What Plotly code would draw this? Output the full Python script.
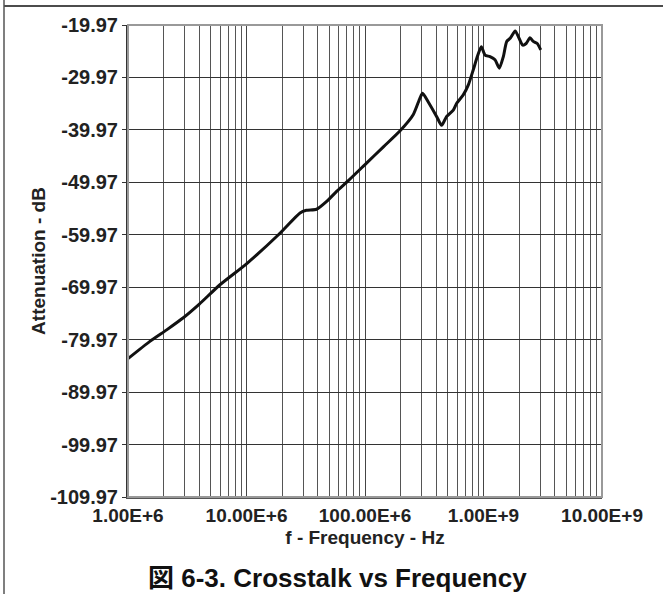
import plotly.graph_objects as go

# Frequency (Hz) and attenuation (dB)
freq_hz = [1.0e6, 1.53e6, 2.12e6, 2.93e6, 4.0e6, 5.97e6, 10e6, 18.6e6, 28.3e6, 32e6,
           39e6, 47.5e6, 57.6e6, 73.5e6, 103e6, 143e6, 197e6, 255e6, 291e6, 306e6,
           341e6, 402e6, 443e6, 489e6, 556e6, 594e6, 675e6, 745e6, 820e6, 887e6,
           959e6, 1.03e9, 1.135e9, 1.25e9, 1.36e9, 1.47e9, 1.57e9, 1.68e9, 1.85e9,
           1.97e9, 2.14e9, 2.29e9, 2.47e9, 2.63e9, 2.84e9, 3.04e9]
atten_db = [-83.6, -80.3, -78.1, -75.8, -73.2, -69.5, -65.5, -59.97, -55.8, -55.3,
            -55.1, -53.6, -51.7, -49.5, -46.3, -43.2, -40.2, -37.1, -33.9, -33.0,
            -34.6, -37.4, -39.1, -37.4, -36.2, -34.9, -33.3, -31.4, -28.5, -26.0,
            -24.1, -25.7, -26.0, -26.6, -28.2, -26.0, -23.1, -22.5, -21.1,
            -22.2, -23.8, -23.5, -22.4, -23.1, -23.5, -24.7]

x_tick_vals = [1e6, 1e7, 1e8, 1e9, 1e10]
x_tick_text = ["1.00E+6", "10.00E+6", "100.00E+6", "1.00E+9", "10.00E+9"]
y_tick_vals = [-19.97, -29.97, -39.97, -49.97, -59.97, -69.97, -79.97, -89.97, -99.97, -109.97]
y_tick_text = ["-19.97", "-29.97", "-39.97", "-49.97", "-59.97", "-69.97", "-79.97", "-89.97", "-99.97", "-109.97"]

x_title = "f - Frequency - Hz"
y_title = "Attenuation - dB"
caption = "図 6-3. Crosstalk vs Frequency"

FONT = "Liberation Sans, Arial, Noto Sans CJK JP, sans-serif"

fig = go.Figure()
fig.add_trace(go.Scatter(
    x=freq_hz, y=atten_db, mode="lines",
    line=dict(color="#111111", width=3, shape="spline", smoothing=0.6),
    showlegend=False, hoverinfo="skip",
))

fig.update_layout(
    width=663, height=594,
    margin=dict(l=128, r=61, t=25, b=97),
    paper_bgcolor="white", plot_bgcolor="white",
    font=dict(family=FONT, color="#222222"),
    xaxis=dict(
        type="log", range=[6, 10],
        tickvals=x_tick_vals, ticktext=x_tick_text,
        tickfont=dict(size=19, weight=700, color="#222222"),
        showgrid=True, gridcolor="#444444", gridwidth=1,
        minor=dict(dtick="D1", showgrid=True, gridcolor="#555555", gridwidth=1, ticks=""),
        ticks="", showline=True, linecolor="#555555", linewidth=2,
        title=dict(text=x_title, font=dict(size=19, weight=700, color="#222222"), standoff=6),
        zeroline=False,
    ),
    yaxis=dict(
        range=[-109.97, -19.97],
        tickvals=y_tick_vals, ticktext=y_tick_text,
        tickfont=dict(size=20, weight=700, color="#222222"),
        showgrid=True, gridcolor="#333333", gridwidth=1,
        ticks="outside", ticklen=4, tickcolor="#333333",
        showline=True, linecolor="#333333", linewidth=2,
        title=dict(text=y_title, font=dict(size=19, weight=700, color="#222222"), standoff=0),
        zeroline=False,
    ),
    shapes=[
        # light plot frame (top and right edges)
        dict(type="rect", xref="paper", yref="paper", x0=0, y0=0, x1=1, y1=1,
             line=dict(color="#999999", width=2), layer="above"),
        # figure page border: top rule and left rule
        dict(type="line", xref="paper", yref="paper", x0=-0.2616, x1=1.13, y0=1.0403, y1=1.0403,
             line=dict(color="#111111", width=1.5)),
        dict(type="line", xref="paper", yref="paper", x0=-0.2616, x1=-0.2616, y0=1.06, y1=-0.21,
             line=dict(color="#555555", width=1.5)),
    ],
    annotations=[
        dict(text=caption, xref="paper", yref="paper", x=0.443, y=-0.172,
             xanchor="center", yanchor="middle", showarrow=False,
             font=dict(size=26, weight=700, color="#111111",
                       family="Liberation Sans, Arial, Noto Sans CJK JP, sans-serif")),
    ],
)

fig.write_html(
    "out.html",
    config={"displayModeBar": False},
    post_script="document.body.style.margin='0';document.body.style.padding='0';document.body.style.overflow='hidden';",
)
